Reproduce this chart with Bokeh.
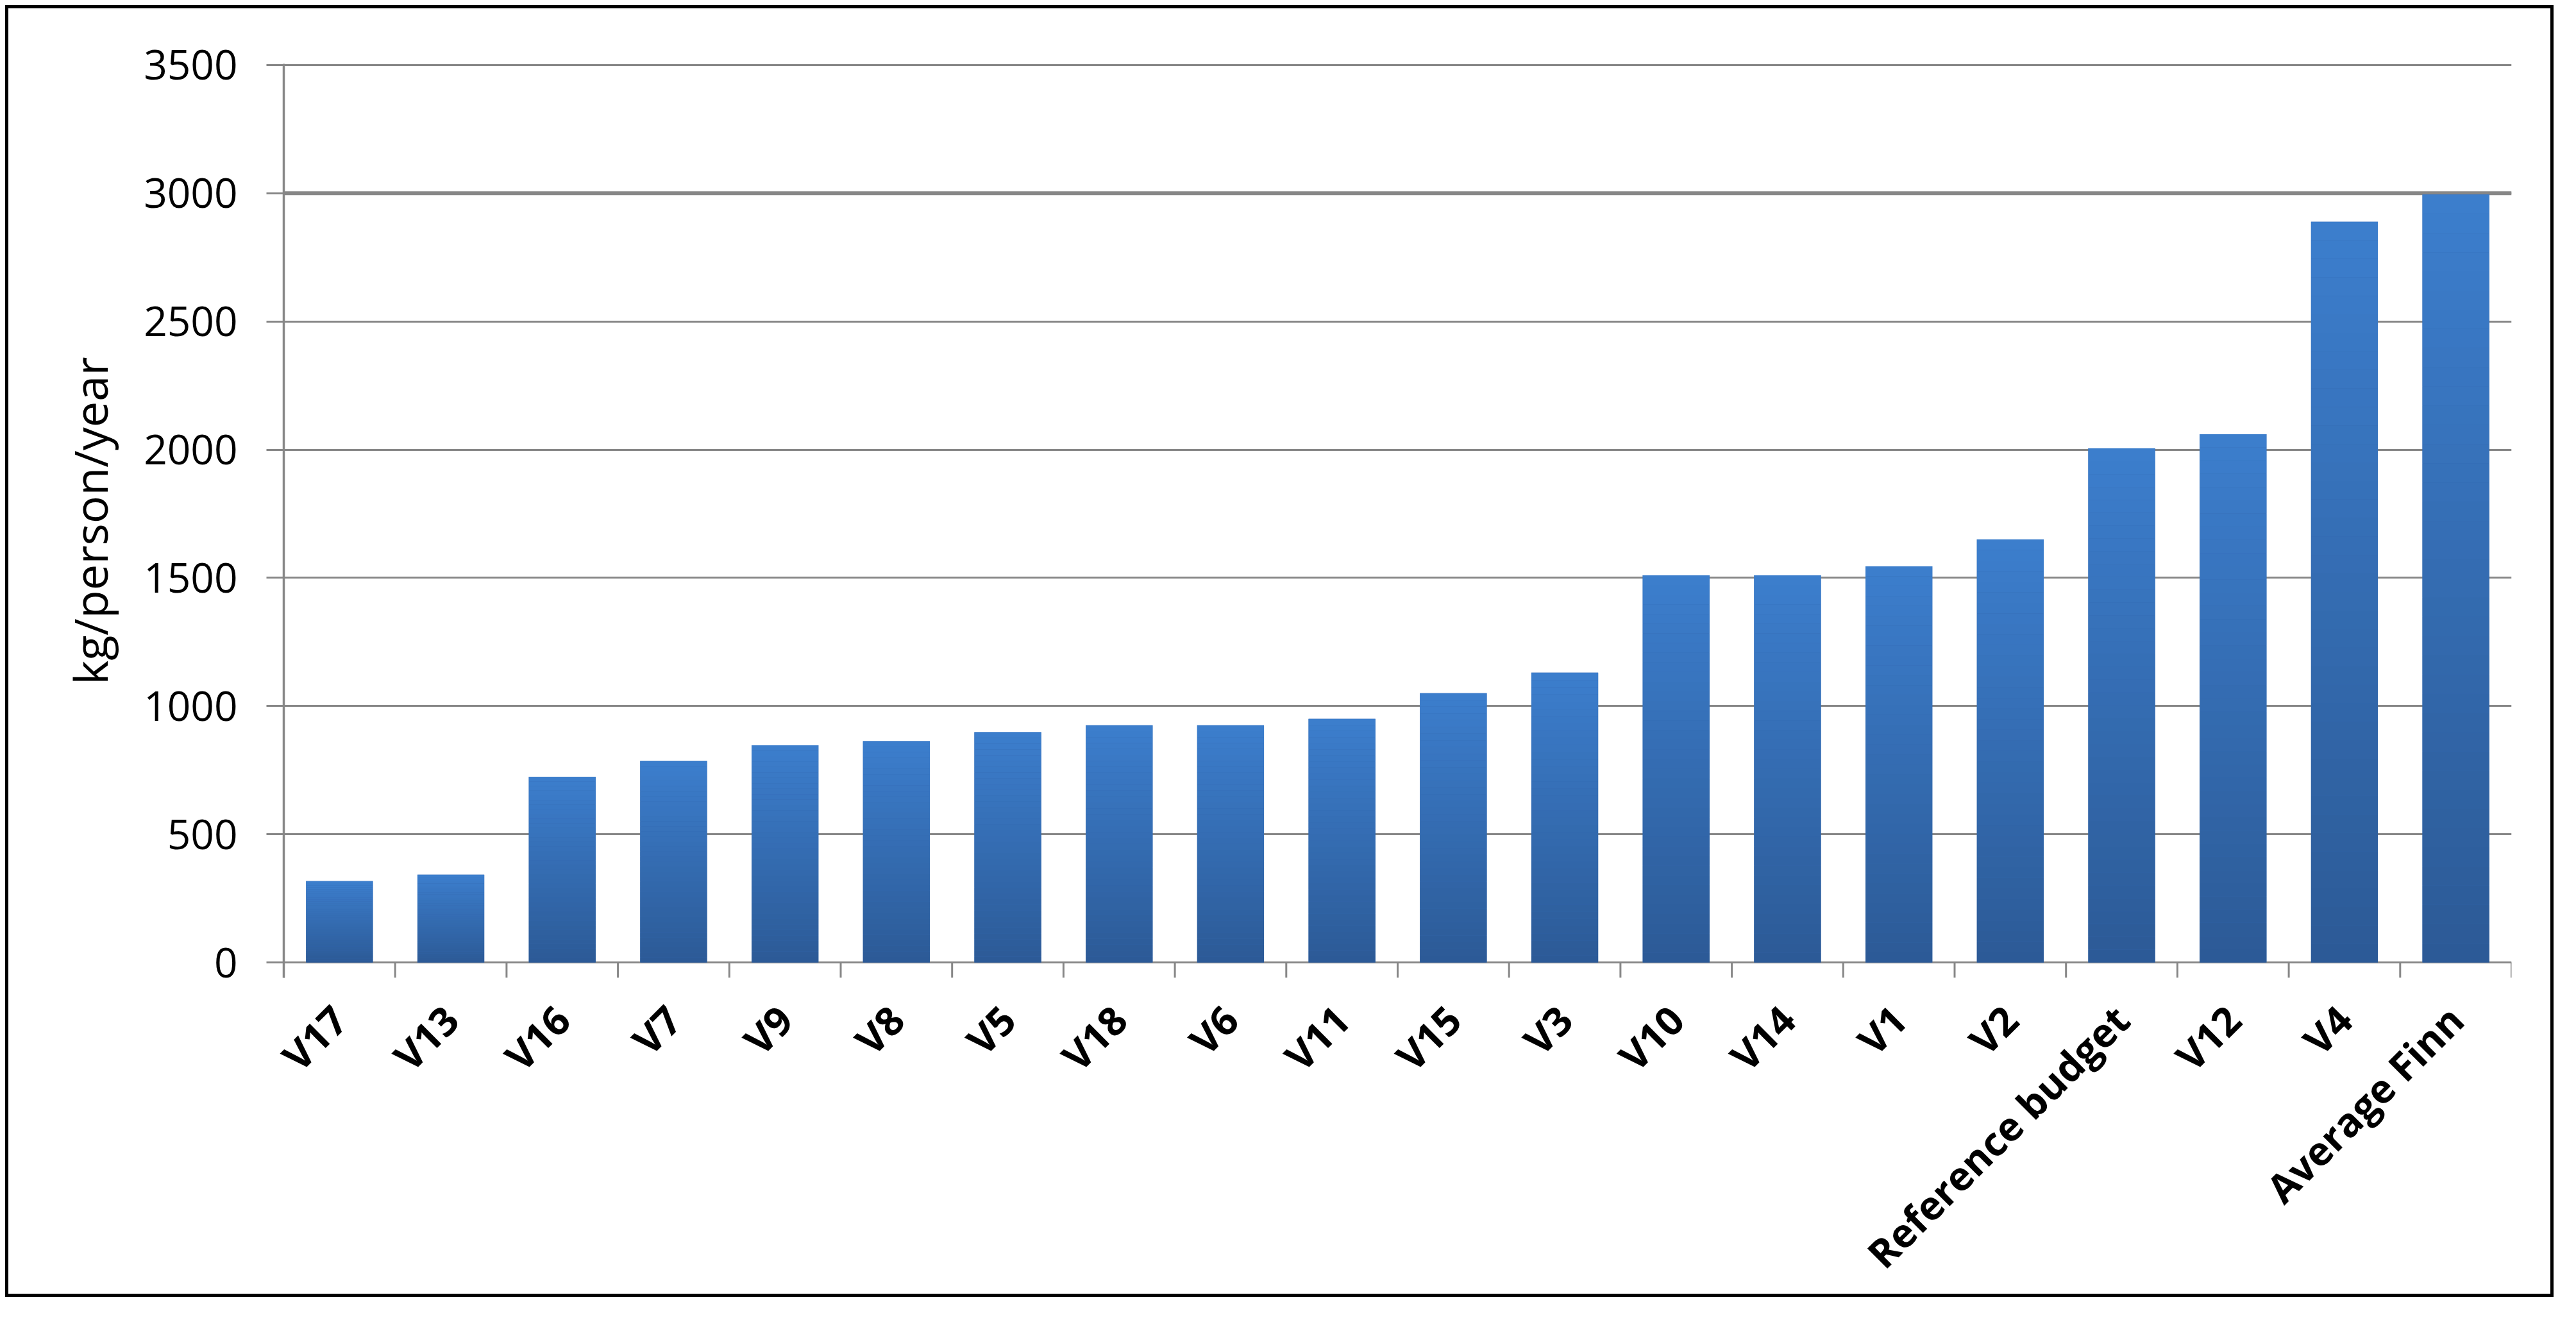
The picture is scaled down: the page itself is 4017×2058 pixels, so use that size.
import math
from bokeh.plotting import figure
from bokeh.models import ColumnDataSource, FactorRange, Range1d, FixedTicker, Span
from bokeh.transform import dodge
from bokeh.embed import file_html
from bokeh.resources import INLINE

# ---- data ----
categories = ["V17", "V13", "V16", "V7", "V9", "V8", "V5", "V18", "V6", "V11",
              "V15", "V3", "V10", "V14", "V1", "V2", "Reference budget", "V12",
              "V4", "Average Finn"]
values = [317, 342, 724, 786, 847, 863, 898, 925, 925, 950,
          1050, 1130, 1510, 1510, 1545, 1650, 2005, 2060, 2889, 2995]
y_ticks = [0, 500, 1000, 1500, 2000, 2500, 3000, 3500]
y_label = "kg/person/year"

# ---- styling ----
GRID = "#878787"
TOP_RGB = (0x3C, 0x7E, 0xCD)
BOT_RGB = (0x2C, 0x5A, 0x96)
FONT = "Open Sans"

W, H = 3974, 2014
p = figure(x_range=FactorRange(factors=categories, range_padding=0),
           y_range=Range1d(-60, 3505),
           width=W, height=H, output_backend="svg", toolbar_location=None,
           min_border_left=429, min_border_right=71,
           min_border_top=86, min_border_bottom=502)
p.styles = {"border": "5px solid black", "margin-left": "8px", "margin-top": "8px"}
p.outline_line_color = None
p.background_fill_color = "white"
p.border_fill_color = "white"

# bars: base bar + vertical gradient slices (relative to each bar's height)
base = ColumnDataSource(dict(cat=categories, val=values))
p.vbar(x="cat", top="val", bottom=0, width=0.6, source=base,
       fill_color="#3469AE", line_color=None)

K = 40
sx, sb, st, sc = [], [], [], []
for c, v in zip(categories, values):
    for k in range(K):
        f0, f1 = k / K, (k + 1) / K
        t = (f0 + f1) / 2
        rgb = tuple(int(round(b + (tp - b) * t)) for b, tp in zip(BOT_RGB, TOP_RGB))
        sx.append(c)
        sb.append(v * f0)
        st.append(v * f1)
        sc.append("#%02x%02x%02x" % rgb)
grad = ColumnDataSource(dict(cat=sx, bottom=sb, top=st, color=sc))
p.vbar(x="cat", top="top", bottom="bottom", width=0.6, source=grad,
       fill_color="color", line_color=None)

# category boundary ticks below the baseline
tick_src = ColumnDataSource(dict(cat=categories))
p.segment(x0=dodge("cat", -0.5, range=p.x_range), y0=0,
          x1=dodge("cat", -0.5, range=p.x_range), y1=-60,
          source=tick_src, line_color=GRID, line_width=3)
last_src = ColumnDataSource(dict(cat=[categories[-1]]))
p.segment(x0=dodge("cat", 0.5, range=p.x_range), y0=0,
          x1=dodge("cat", 0.5, range=p.x_range), y1=-60,
          source=last_src, line_color=GRID, line_width=3)

# grid
p.xgrid.grid_line_color = None
p.ygrid.ticker = FixedTicker(ticks=y_ticks)
p.ygrid.grid_line_color = GRID
p.ygrid.grid_line_width = 3
p.ygrid.level = "underlay"
p.add_layout(Span(location=3000, dimension="width", line_color=GRID,
                  line_width=6, level="underlay"))

# y axis
ya = p.yaxis[0]
ya.ticker = FixedTicker(ticks=y_ticks)
ya.axis_line_color = GRID
ya.axis_line_width = 3.5
ya.major_tick_line_color = GRID
ya.major_tick_line_width = 3
ya.major_tick_out = 27
ya.major_tick_in = 0
ya.minor_tick_line_color = None
ya.major_label_standoff = 45
ya.major_label_text_font = FONT
ya.major_label_text_font_size = "64px"
ya.major_label_text_color = "black"
ya.axis_label = y_label
ya.axis_label_text_font = FONT
ya.axis_label_text_font_size = "72px"
ya.axis_label_text_font_style = "normal"
ya.axis_label_text_color = "black"
ya.axis_label_standoff = 32

# x axis
xa = p.xaxis[0]
xa.axis_line_color = None
xa.major_tick_line_color = None
xa.minor_tick_line_color = None
xa.major_tick_out = 0
xa.major_tick_in = 0
xa.major_label_orientation = math.pi / 4
xa.major_label_standoff = 54
xa.major_label_text_font = FONT
xa.major_label_text_font_size = "62px"
xa.major_label_text_font_style = "bold"
xa.major_label_text_color = "black"

open("out.html", "w").write(file_html(p, INLINE))
